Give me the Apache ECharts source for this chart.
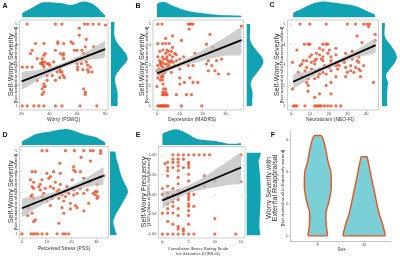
<!DOCTYPE html>
<html>
<head>
<meta charset="utf-8">
<script src="https://cdn.jsdelivr.net/npm/echarts@6/dist/echarts.min.js"></script>
<style>
html,body{margin:0;padding:0;background:#fff}
#chart{width:400px;height:259px}
</style>
</head>
<body>
<div id="chart"></div>
<script>
// ---- data ----
// A: Worry (PSWQ) vs self-worry severity
const worryPoints = [[24,5],[44.3,5],[49,5],[65.2,5],[67.4,5],[71.2,5],[75.5,5],[80.2,4.95],
  [61.4,4.8],[61.4,4.46],[66.4,4.25],[46,4.13],[55.5,4.13],
  [30,4.05],[36,4.05],[46,4.05],[50.2,4.05],[56.9,4.05],[65.7,3.89],[71.7,3.89],
  [27.6,3.72],[44.3,3.72],[57.9,3.72],[59.8,3.72],[63.3,3.72],
  [26.4,3.56],[37,3.56],[47.9,3.56],[50.2,3.56],[64.5,3.56],[67.4,3.56],[36,3.48],[49.7,3.48],
  [31.2,3.31],[34.8,3.31],[50.2,3.31],[59.8,3.31],[62,3.31],[34.8,3.15],[36.4,3.15],[43,3.15],[66.4,3.15],
  [33.6,3.07],[34.8,3.07],[38.3,3.07],[39.5,3.07],[59.8,3.07],[62.9,3.07],[35.5,2.99],[40.2,2.99],[67.4,2.99],
  [20.5,2.9],[24,2.9],[27.6,2.9],[36,2.9],[45.5,2.9],[47.4,2.9],[60.2,2.9],[69.3,2.9],
  [47.4,2.77],[60.2,2.77],[64,2.77],[67.4,2.77],[45.5,2.66],[47.9,2.66],[49,2.66],[68,2.66],[70.5,2.66],
  [38.3,2.49],[42,2.49],[49.7,2.49],[47.4,2.38],[50.7,2.38],[31.2,2.25],[38.3,2.25],[44.3,2.25],
  [36,2.08],[36,1.95],[37,1.95],[34.8,1.84],[64.5,1.84],[36,1.67],[65.7,1.67],[34.8,1.56],[65.7,1.56],
  [20.5,1],[24,1],[28.8,1],[32.4,1],[36,1],[44.3,1],[49,1],[62,1],[74,1]];
const worryFit = [[20,2.2],[80,3.78]];
const worryBandX = [20,30,40,50,60,70,80];
const worryBandUp = [2.62,2.73,2.89,3.11,3.40,3.77,4.16];
const worryBandLo = [1.80,2.19,2.57,2.87,3.10,3.27,3.40];
const worryTopDens = [[20.5,4],[25,7.5],[30,11.5],[34.8,14.7],[40,15],[45,14.5],[49,14],[52,13],[55,12.3],
  [58,13],[61,14.5],[64.5,15.7],[68,15],[72,12.5],[75,9],[78,4.5],[80,1.5]];
const worrySideDens = [[1.0,6.3],[1.3,6.5],[1.6,6.7],[1.9,5.5],[2.15,4.3],[2.35,4],[2.6,6],[2.85,10],[3.1,14.5],
  [3.3,16.7],[3.55,15],[3.8,11],[4.0,7.5],[4.25,4.5],[4.5,3.3],[4.8,3.3],[5.1,3.3]];

// B: Depression (MADRS)
const madrsPoints = [[0.4,5],[2.2,5],[13.7,5],[14.4,5],[15.1,5],[15.8,5],[37,4.9],
  [14.1,4.76],[23.2,4.5],[6.8,4.42],[3.8,4.3],[10.7,4.2],[0.4,4.05],[2.4,4.05],[3.8,4.05],[5.3,4.05],[21.7,4.02],
  [24.4,3.86],[6.8,3.86],[2.6,3.73],[4.4,3.73],[1.2,3.67],[4.9,3.67],[6.3,3.67],[3.8,3.57],[7.8,3.57],[16.6,3.57],
  [5.6,3.5],[8.5,3.5],[0.4,3.4],[2.4,3.4],[4.4,3.4],[6.8,3.4],[11.7,3.4],[2.9,3.29],[4.1,3.29],[10,3.29],[28.3,3.29],
  [1.2,3.21],[4.9,3.21],[6.3,3.21],[8.5,3.21],[22.5,3.21],[26.1,3.21],[1.6,3.13],[2.4,3.13],[5.6,3.13],[7.1,3.13],
  [1.5,3.05],[3.4,3.05],[4.4,3.05],[21.7,3.05],[0.4,2.97],[1.9,2.97],[5.3,2.97],[7.8,2.97],[9.3,2.97],[13.7,2.97],
  [15.8,2.97],[24,2.97],[2.6,2.88],[4.4,2.88],[5.6,2.88],[0.9,2.8],[2.4,2.8],[3.4,2.8],[10,2.8],
  [0,2.72],[1.5,2.72],[22.5,2.72],[25.4,2.72],[0.9,2.64],[2.6,2.64],[3.4,2.64],[6.3,2.64],
  [0.9,2.56],[2.6,2.56],[26.9,2.56],[31.3,2.56],[1.9,2.43],[2.6,2.43],[0.4,2.37],[10,2.37],[14.4,2.37],
  [1.5,2.27],[2.4,2.27],[12,2.15],[15.8,2.15],[17.9,2.15],[2.6,2.07],[10,2.07],[0,1.95],[2.9,1.83],[3.8,1.83],
  [2.6,1.67],[3.8,1.67],[2.4,1.55],[2.9,1.55],[3.8,1.55],[4.4,1.55],[8.5,1.55],[12.9,1.55],[15.1,1.55],
  [0.4,1],[0.9,1],[1.5,1],[1.9,1],[2.4,1],[2.6,1],[2.9,1],[3.4,1],[3.8,1],[4.4,1],[4.9,1],[10.7,1],[19.6,1]];
const madrsFit = [[0,2.59],[37,4.22]];
const madrsBandX = [0,5,10,15,20,25,30,37];
const madrsBandUp = [2.76,2.93,3.15,3.43,3.73,4.04,4.36,4.85];
const madrsBandLo = [2.42,2.69,2.91,3.07,3.21,3.34,3.46,3.55];
const madrsTopDens = [[0,13],[1.5,15],[2.6,15.5],[4,14.8],[6,12.5],[8,10.5],[10,8.8],[12,7.2],[14,6],
  [16.6,5],[20,4],[25,2.8],[30,2],[37,1.5]];
const madrsSideDens = [[1.0,5],[1.3,5.5],[1.59,6],[1.85,5],[2.07,4],[2.35,6],[2.6,10],[2.9,14.5],[3.15,16.7],
  [3.4,15],[3.7,10],[3.95,6],[4.27,3.3],[4.6,3.3],[5.0,3.3]];

// C: Neuroticism (NEO-FI)
const neoPoints = [[4.7,5],[9.9,5],[18.6,5],[29.9,5],[34.3,5],[38.6,5],[40.3,5],[41.7,5],
  [41.2,4.88],[44.7,4.5],[35.1,4.42],[44.7,4.2],[37.7,4.1],[7,4.02],[9,4.02],[9.9,4.02],[16.9,4.02],[18.6,4.02],[19.5,4.02],
  [15.1,3.82],[23.8,3.82],[3,3.73],[16.9,3.73],[20.3,3.73],[32.5,3.67],[13.4,3.57],[19.5,3.57],[29,3.57],
  [10.8,3.5],[15.1,3.5],[23.8,3.5],[9.9,3.4],[16.9,3.4],[21.2,3.4],[30.8,3.4],[36,3.4],[13.4,3.29],[16,3.29],[32.5,3.29],
  [6.4,3.21],[8.2,3.21],[12.5,3.21],[16.9,3.21],[21.2,3.21],[28.2,3.21],[35.1,3.21],
  [0.7,3.13],[10.8,3.13],[23.8,3.13],[28.2,3.13],[36,3.13],[5.6,3.05],[12.5,3.05],[21.2,3.05],[24.7,3.05],
  [4.7,2.97],[17.7,2.97],[23.8,2.97],[25.6,2.97],[31.7,2.97],[38.6,2.97],[8.2,2.88],[20.3,2.88],[29,2.88],[34.3,2.88],
  [10.8,2.8],[15.1,2.8],[24.7,2.8],[36,2.8],[7.3,2.72],[12.5,2.72],[21.2,2.72],[31.7,2.72],[36.9,2.72],
  [3.8,2.64],[16.9,2.64],[29.9,2.64],[33.4,2.64],[10.8,2.56],[15.1,2.56],[18.6,2.56],
  [5.6,2.43],[14.3,2.43],[23.8,2.43],[29,2.43],[36.9,2.43],[9,2.33],[12.5,2.33],[8.2,2.15],[21.2,2.15],[43.8,2.15],
  [9,2.0],[18.6,2.0],[0.7,1.83],[9,1.72],[15.1,1.59],[21.2,1.59],[12.5,1.42],
  [1.2,1],[2.1,1],[3,1],[7.3,1],[12.5,1],[13.4,1],[14.3,1],[15.1,1],[16,1],[17.7,1],[19.5,1],[21.2,1],[23.8,1],[26.4,1]];
const neoFit = [[1,2.18],[45,3.97]];
const neoBandX = [1,8,15,22,29,36,45];
const neoBandUp = [2.51,2.68,2.89,3.14,3.45,3.80,4.29];
const neoBandLo = [1.85,2.24,2.61,2.92,3.19,3.40,3.65];
const neoTopDens = [[1,4],[5,8],[10,12.5],[14,15],[17,15.7],[20,15.4],[24,14.5],[28,13.2],[32,12.2],[36,10],[40,6.5],[44.7,2.5]];
const neoSideDens = [[1.0,5],[1.3,5],[1.6,5.2],[1.9,5.5],[2.15,6],[2.48,4],[2.75,7],[3.05,12],[3.37,15],[3.65,13],
  [3.95,9],[4.2,5],[4.43,2.7],[4.8,2.7],[5.05,2.7]];

// D: Perceived Stress (PSS)
const pssPoints = [[8.1,5],[10.1,5],[17.6,5],[21.2,5],[25,5],[27.7,5],[28.8,5],[31.8,5],
  [31.8,4.87],[23.9,4.68],[27.7,4.5],[15.3,4.39],[20.9,4.23],[20.9,4.07],
  [4.1,3.99],[5.4,3.99],[12.8,3.99],[21.6,3.99],[23.6,3.99],[10.1,3.91],[15.5,3.91],[33.1,3.8],[11.5,3.75],
  [10.8,3.67],[25,3.67],[3.4,3.6],[8.1,3.6],[20.3,3.6],[4.7,3.48],[13.5,3.48],[27,3.48],[7.4,3.38],[15.5,3.38],[30.4,3.38],
  [4.1,3.27],[6.8,3.27],[11.5,3.27],[18.2,3.27],[4.7,3.19],[9.5,3.19],[12.8,3.19],[23.6,3.19],
  [7.4,3.11],[14.9,3.11],[20.9,3.11],[26.4,3.11],[14.2,3.03],[17.6,3.03],[29.7,3.03],[30.4,3.03],
  [8.8,2.95],[14.9,2.95],[18.9,2.95],[22.3,2.95],[25,2.95],[28.8,2.95],[4.1,2.87],[12.8,2.87],[16.2,2.87],[20.9,2.87],[29.7,2.87],
  [3.6,2.79],[8.1,2.79],[17.6,2.79],[30.7,2.79],[4.7,2.71],[12.2,2.71],[14.9,2.71],[30.4,2.71],
  [8.1,2.58],[10.1,2.58],[16.9,2.58],[4.7,2.47],[19.6,2.47],[27,2.47],[11.5,2.36],[21.6,2.36],
  [2.7,2.26],[16.2,2.26],[22.3,2.26],[19.6,2.2],[25,2.1],[4.1,1.99],[16.9,1.99],
  [2.3,1.88],[5.4,1.67],[4.7,1.59],[14.9,1.51],
  [0,1],[3.6,1],[4.5,1],[5.4,1],[6.4,1],[8.1,1],[10.1,1],[14.2,1],[16.6,1],[17.6,1],[18.9,1]];
const pssFit = [[0,2.23],[33,3.8]];
const pssBandX = [0,5,10,15,20,25,30,33];
const pssBandUp = [2.65,2.77,2.91,3.07,3.31,3.62,3.98,4.2];
const pssBandLo = [1.81,2.17,2.51,2.81,3.05,3.22,3.34,3.4];
const pssTopDens = [[0,3.3],[3,7.5],[5.4,10.7],[8,12.3],[10.8,13.3],[14,14.8],[17.6,16],[20,15],[24.3,11.3],
  [27,9.5],[29.7,8],[32,5],[33.7,2.3]];
const pssSideDens = [[0.95,6.7],[1.1,5.5],[1.3,4.5],[1.5,3.5],[1.65,3.5],[1.85,5],[2.07,7.5],[2.4,11.5],[2.75,15.5],
  [3.03,18],[3.3,16],[3.65,12.5],[4.0,10],[4.3,8.5],[4.6,6.5],[4.96,5]];

// E: CIRS-G vs self-worry frequency
const cirsPoints = [[2,1],[3,1],[4,1],[5,1],[6,1],[7,1],[8,1],[9,1],[15,1],
  [2,0.89],[3,0.89],[4,0.89],[1,0.81],[2,0.81],[3,0.81],[5,0.81],[0.5,0.78],[5,0.75],[3,0.72],
  [1,0.68],[2,0.68],[4,0.68],[5,0.68],[14,0.64],[1,0.6],[3,0.6],[5,0.51],[1,0.47],[8,0.47],[3,0.43],
  [5,0.34],[10,0.34],[15,0.32],[3,0.27],[1,0.21],[8,0.21],[0,0.15],[2,0.15],[5,0.15],[3,0.1],[1,0.04],[5,0.04],
  [0,0],[2,0],[3,0],[5,0],[6,0],[1,-0.07],[5,-0.07],[3,-0.13],[5,-0.13],[2,-0.19],
  [1,-0.24],[5,-0.24],[2,-0.3],[5,-0.3],[6,-0.3],[1,-0.36],[3,-0.36],[5,-0.41],[0,-0.47],[1,-0.47],[2,-0.47],
  [3,-0.53],[5,-0.53],[10,-0.61],[1,-0.68],[2,-0.75],[5,-0.75],[3,-0.81],[3,-0.87],[4,-0.87],[4,-0.92],
  [0,-1],[1,-1],[2,-1],[3,-1],[4,-1],[5,-1],[6,-1],[10,-1],[14,-1]];
const cirsFit = [[0,-0.15],[15,0.68]];
const cirsBandX = [0,2.5,5,7.5,10,12.5,15];
const cirsBandUp = [0.05,0.11,0.23,0.40,0.62,0.84,1.06];
const cirsBandLo = [-0.35,-0.13,0.03,0.12,0.18,0.24,0.30];
const cirsTopDens = [[0,10.7],[1,13.5],[2.5,15.7],[3.5,14.5],[5,10.7],[6,7.5],[6.9,5.7],[8,5],[10,4],[11.5,2.5],
  [12.6,1.3],[14,1.3],[15,1.7]];
const cirsSideDens = [[-1.03,13.3],[-0.9,13],[-0.79,12.7],[-0.6,13],[-0.47,13.3],[-0.2,13.8],[0.01,14],[0.25,13.8],
  [0.5,13.3],[0.7,12.5],[0.86,12],[0.95,13.5],[1.05,14]];

// F: violins by sex
const sexCategories = ['F','M'];
const violinFY = [1,1.14,1.34,1.76,2.07,2.49,2.75,3.01,3.32,3.64,3.95,4.14];
const violinFHalf = [0.2,0.2,0.18,0.18,0.24,0.29,0.29,0.28,0.22,0.18,0.13,0.073];
const violinMY = [1,1.08,1.24,1.45,1.66,1.97,2.39,2.8,3.11,3.32,3.48];
const violinMHalf = [0.45,0.45,0.42,0.38,0.33,0.28,0.22,0.16,0.117,0.088,0.058];

// ---- styling ----
const TEAL = '#12a3b2';
const DOT = '#ee4a22';
const FONT = 'Liberation Sans, Arial, sans-serif';

const grids = [], xAxes = [], yAxes = [], series = [];

function addGrid(box, xa, ya, show) {
  const i = grids.length;
  grids.push(Object.assign({ containLabel: false, show: !!show, borderColor: '#b8b8b8', borderWidth: 0.7,
    backgroundColor: 'transparent' }, box));
  xAxes.push(Object.assign({ gridIndex: i }, xa));
  yAxes.push(Object.assign({ gridIndex: i }, ya));
  return i;
}
function hidden(min, max) { return { type: 'value', min, max, show: false, splitLine: { show: false } }; }
function shown(min, max, ticks, fmt) {
  return {
    type: 'value', min, max,
    axisLine: { show: false }, splitLine: { show: false },
    axisTick: { show: true, length: 1.5, lineStyle: { color: '#999', width: 0.5 }, customValues: ticks },
    axisLabel: { fontSize: 4, color: '#4d4d4d', margin: 2, fontFamily: FONT, customValues: ticks, formatter: fmt }
  };
}
// closed shape through the given data points, smoothed but kept inside its own bounding box
function polygon(gi, pts, style, smooth, z) {
  return {
    type: 'custom', xAxisIndex: gi, yAxisIndex: gi, data: pts, z: z, silent: true,
    renderItem: function (params, api) {
      if (params.dataIndex !== 0) return null;
      const px = pts.map(p => api.coord(p));
      const xs = px.map(p => p[0]), ys = px.map(p => p[1]);
      const box = [[Math.min.apply(null, xs), Math.min.apply(null, ys)], [Math.max.apply(null, xs), Math.max.apply(null, ys)]];
      return { type: 'polygon', shape: { points: px, smooth: smooth, smoothConstraint: box }, style: style };
    }
  };
}

function scatterPanel(p) {
  const g = addGrid(p.box, shown(p.xMin, p.xMax, p.xTicks, p.xFmt), shown(p.yMin, p.yMax, p.yTicks, p.yFmt), true);
  series.push({ type: 'scatter', xAxisIndex: g, yAxisIndex: g, data: p.points, symbolSize: 3.2,
    itemStyle: { color: DOT }, z: 2, silent: true });
  const band = p.bandX.map((x, i) => [x, p.bandUp[i]])
    .concat(p.bandX.map((x, i) => [x, p.bandLo[i]]).reverse());
  series.push(polygon(g, band, { fill: 'rgba(190,190,190,0.75)' }, 0.3, 3));
  series.push({ type: 'line', xAxisIndex: g, yAxisIndex: g, data: p.fit, symbol: 'none',
    lineStyle: { color: '#000', width: 1.8 }, z: 4, silent: true });

  const t = addGrid(p.topBox, hidden(p.xMin, p.xMax), hidden(0, p.topBox.height));
  const tp = p.topDens;
  series.push(polygon(t, [[tp[0][0], 0]].concat(tp, [[tp[tp.length - 1][0], 0]]), { fill: TEAL }, 0.3, 2));

  const s = addGrid(p.sideBox, hidden(0, p.sideBox.width), hidden(p.yMin, p.yMax));
  const sp = p.sideDens;
  const sidePts = [[0, sp[0][0]]].concat(sp.map(d => [d[1], d[0]]), [[0, sp[sp.length - 1][0]]]);
  series.push(polygon(s, sidePts, { fill: TEAL }, 0.3, 2));
}

const yFmt15 = v => String(v);

scatterPanel({ box: { left: 19.5, top: 20, width: 88.5, height: 90 }, xMin: 18.5, xMax: 82, xTicks: [20,40,60,80],
  yMin: 0.8, yMax: 5.2, yTicks: [1,2,3,4,5], yFmt: yFmt15,
  points: worryPoints, fit: worryFit, bandX: worryBandX, bandUp: worryBandUp, bandLo: worryBandLo,
  topBox: { left: 19.5, top: 1, width: 88.5, height: 16.3 }, topDens: worryTopDens,
  sideBox: { left: 111, top: 20, width: 17, height: 90 }, sideDens: worrySideDens });

scatterPanel({ box: { left: 153, top: 20, width: 90.5, height: 90 }, xMin: -1.75, xMax: 37.9, xTicks: [0,10,20,30],
  yMin: 0.8, yMax: 5.2, yTicks: [1,2,3,4,5], yFmt: yFmt15,
  points: madrsPoints, fit: madrsFit, bandX: madrsBandX, bandUp: madrsBandUp, bandLo: madrsBandLo,
  topBox: { left: 153, top: 1, width: 90.5, height: 16.3 }, topDens: madrsTopDens,
  sideBox: { left: 246.7, top: 20, width: 17, height: 90 }, sideDens: madrsSideDens });

scatterPanel({ box: { left: 287.5, top: 20, width: 91, height: 90 }, xMin: -2, xMax: 46.5, xTicks: [0,10,20,30,40],
  yMin: 0.8, yMax: 5.2, yTicks: [1,2,3,4,5], yFmt: yFmt15,
  points: neoPoints, fit: neoFit, bandX: neoBandX, bandUp: neoBandUp, bandLo: neoBandLo,
  topBox: { left: 287.5, top: 1, width: 91, height: 16.3 }, topDens: neoTopDens,
  sideBox: { left: 382, top: 20, width: 16, height: 90 }, sideDens: neoSideDens });

scatterPanel({ box: { left: 19.5, top: 146.5, width: 89, height: 91.5 }, xMin: -1, xMax: 35, xTicks: [0,10,20,30],
  yMin: 0.8, yMax: 5.2, yTicks: [1,2,3,4,5], yFmt: yFmt15,
  points: pssPoints, fit: pssFit, bandX: pssBandX, bandUp: pssBandUp, bandLo: pssBandLo,
  topBox: { left: 19.5, top: 128.5, width: 89, height: 16.5 }, topDens: pssTopDens,
  sideBox: { left: 110, top: 146.5, width: 18.3, height: 91.5 }, sideDens: pssSideDens });

scatterPanel({ box: { left: 158.5, top: 146.5, width: 86.5, height: 91.5 }, xMin: -0.75, xMax: 15.75, xTicks: [0,5,10,15],
  yMin: -1.1, yMax: 1.21, yTicks: [-1,-0.5,0,0.5,1], yFmt: v => v.toFixed(2),
  points: cirsPoints, fit: cirsFit, bandX: cirsBandX, bandUp: cirsBandUp, bandLo: cirsBandLo,
  topBox: { left: 158.5, top: 128.5, width: 86.5, height: 16.5 }, topDens: cirsTopDens,
  sideBox: { left: 246.7, top: 146.5, width: 14, height: 91.5 }, sideDens: cirsSideDens });

// F violins
const axisLineF = { show: true, lineStyle: { color: '#aaa', width: 0.7 } };
const fx = shown(0.4, 2.58, [1, 2], v => sexCategories[Math.round(v) - 1]);
fx.axisLine = axisLineF;
const fy = shown(0.84, 4.28, [1, 2, 3, 4], yFmt15);
fy.axisLine = axisLineF;
const gF = addGrid({ left: 290, top: 131, width: 101, height: 110 }, fx, fy);
function violin(center, ys, half) {
  const right = ys.map((y, i) => [center + half[i], y]);
  const left = ys.map((y, i) => [center - half[i], y]).reverse();
  return right.concat(left);
}
const vStyle = { fill: '#7bd0d7', stroke: '#e9521d', lineWidth: 1.4, lineJoin: 'round' };
series.push(polygon(gF, violin(1, violinFY, violinFHalf), vStyle, 0.25, 3));
series.push(polygon(gF, violin(2, violinMY, violinMHalf), vStyle, 0.25, 3));

// texts
function txt(x, y, text, size, opts) {
  return Object.assign({ type: 'text', x: x, y: y, silent: true,
    style: Object.assign({ text: text, fontSize: size, fontFamily: FONT, fill: '#333',
      align: 'center', verticalAlign: 'middle' }, (opts && opts.style) || {}) },
    opts && opts.rotation ? { rotation: opts.rotation } : {});
}
const R = { rotation: Math.PI / 2 };
const bold = { style: { fontWeight: 'bold', fill: '#111' } };
const sevSub = '[Not worried at all to Extremely worried]';
const graphics = [
  txt(5, 6, 'A', 7, bold), txt(138, 6, 'B', 7, bold), txt(272, 5, 'C', 7, bold),
  txt(5, 135, 'D', 7, bold), txt(138, 135, 'E', 7, bold), txt(273, 135, 'F', 7, bold),
  txt(10.5, 65, 'Self-Worry Severity', 7.3, R), txt(15.5, 65, sevSub, 4.4, R),
  txt(142, 65, 'Self-Worry Severity', 7.3, R), txt(147, 65, sevSub, 4.4, R),
  txt(276.5, 65, 'Self-Worry Severity', 7.3, R), txt(281.5, 65, sevSub, 4.4, R),
  txt(10.5, 192, 'Self-Worry Severity', 7.3, R), txt(15.5, 192, sevSub, 4.4, R),
  txt(143.5, 192, 'Self-Worry Frequency', 7.3, R), txt(148.5, 192, '[100% Other to 100% Self Worries]', 4.4, R),
  txt(269, 188, 'Worry Severity with', 7.2, R), txt(275.5, 188, 'External Reappraisal', 7.2, R),
  txt(283, 188, sevSub, 4.4, R),
  txt(63.5, 120, 'Worry (PSWQ)', 5), txt(192, 120, 'Depression (MADRS)', 5), txt(330, 120, 'Neuroticism (NEO-FI)', 5),
  txt(64, 249, 'Perceived Stress (PSS)', 5),
  txt(198, 248.5, 'Cumulative Illness Rating Scale', 4.3), txt(198, 254.3, 'for Geriatrics (CIRS-G)', 4.3),
  txt(341.5, 250, 'Sex', 4.5)
];

const chart = echarts.init(document.getElementById('chart'));
chart.setOption({
  animation: false,
  textStyle: { fontFamily: FONT },
  grid: grids, xAxis: xAxes, yAxis: yAxes, series: series,
  graphic: graphics
});
</script>
</body>
</html>
